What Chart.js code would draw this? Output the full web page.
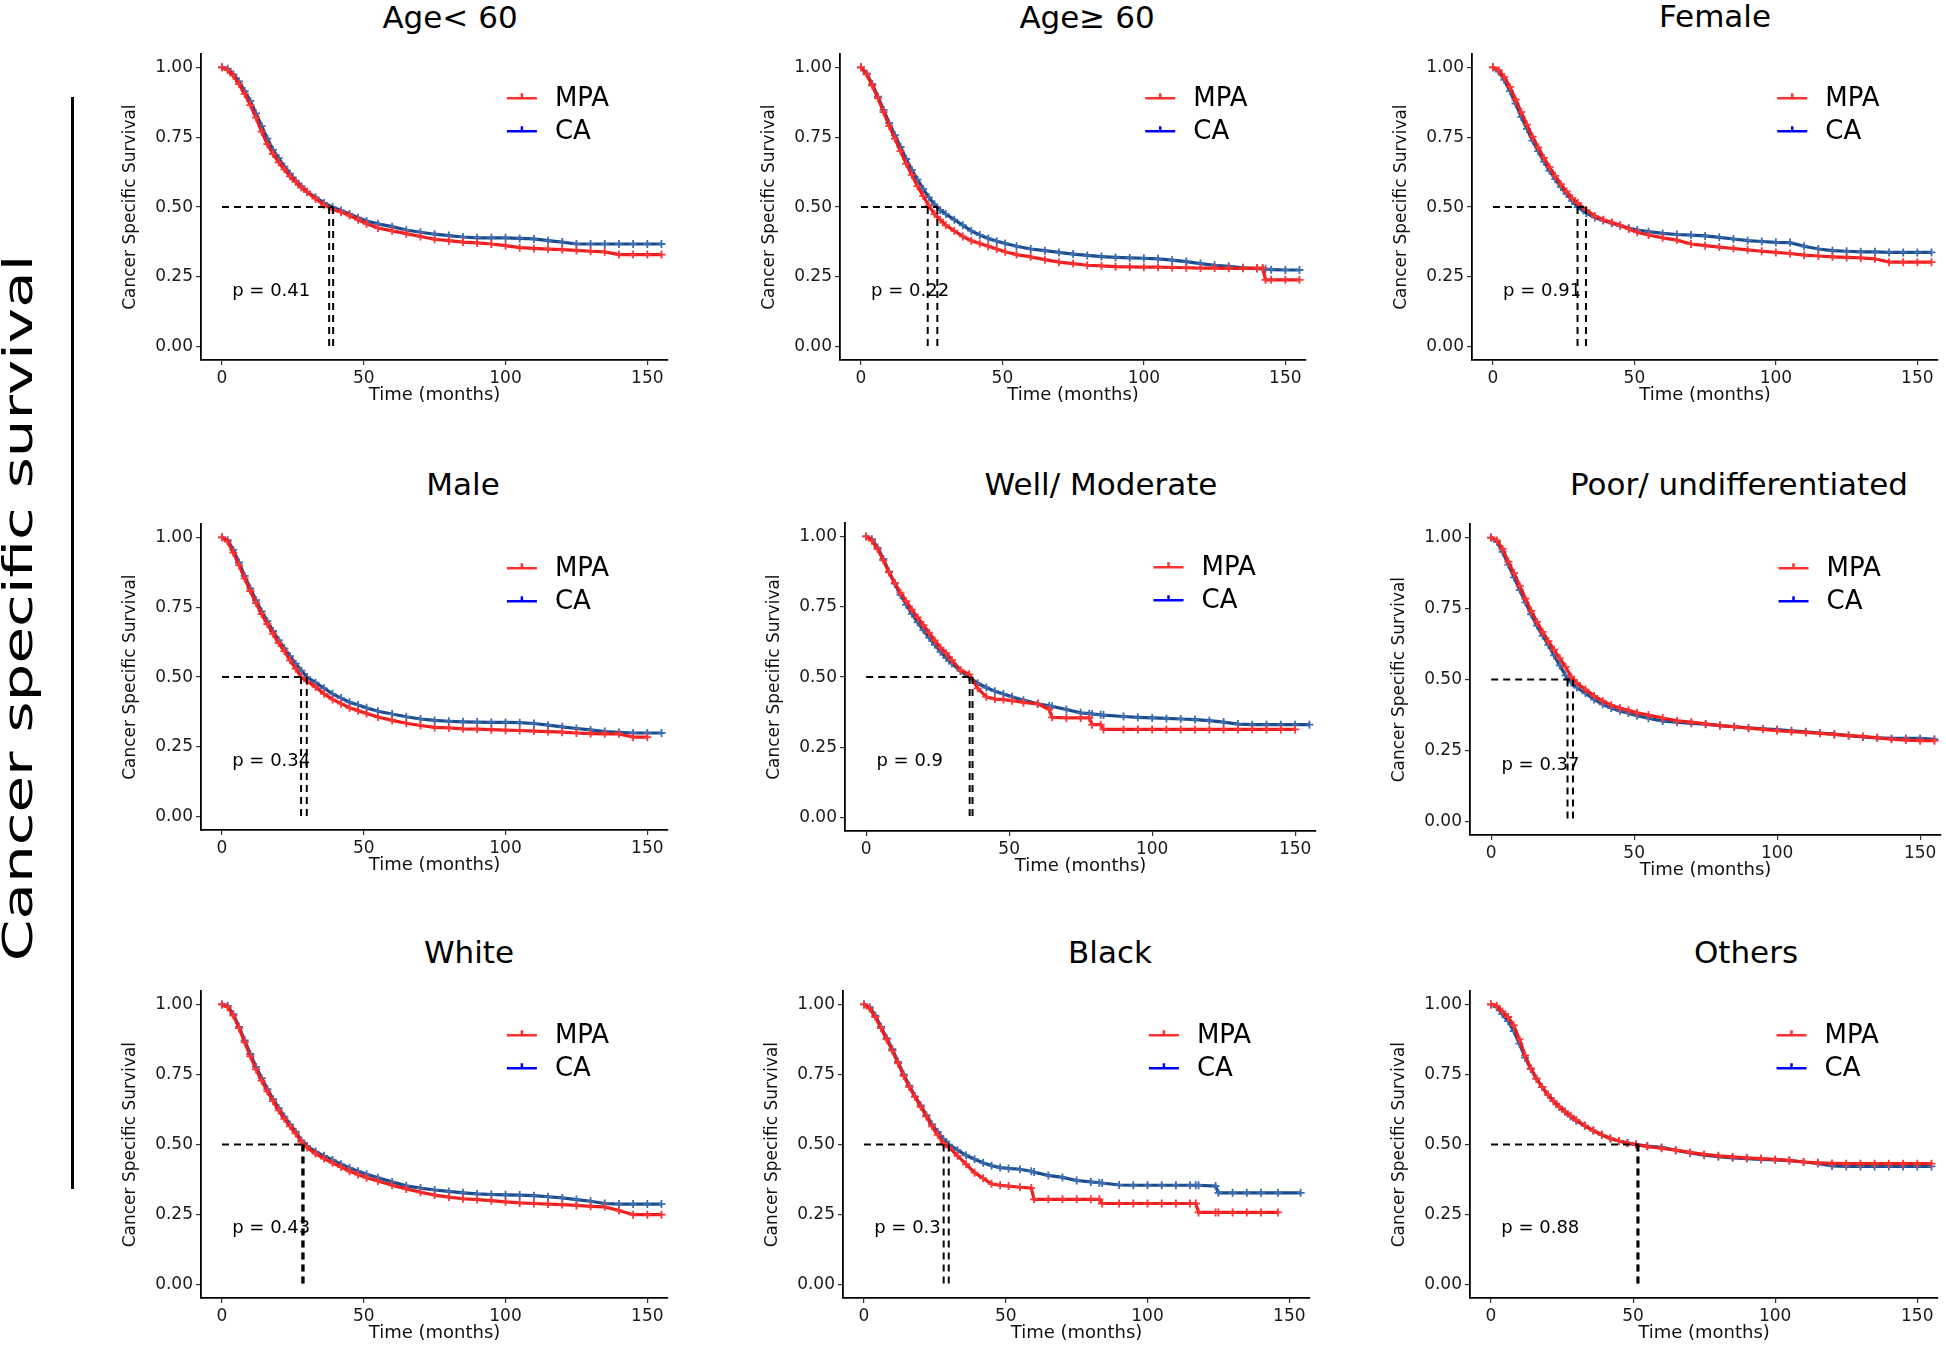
<!DOCTYPE html>
<html>
<head>
<meta charset="utf-8">
<script src="https://cdn.jsdelivr.net/npm/chart.js@4.4.1/dist/chart.umd.min.js"></script>
<style>
  body { margin: 0; background: #fff; width: 1946px; height: 1345px; position: relative; overflow: hidden; }
  canvas { position: absolute; }
  .ttl { position: absolute; font: 31px/31px "DejaVu Sans", sans-serif; color: #000; white-space: nowrap; transform: translateX(-50%); }
  #side { position: absolute; left: 18px; top: 608px; font: 40px/40px "DejaVu Sans", sans-serif; white-space: nowrap;
          transform: translate(-50%, -50%) rotate(-90deg) scaleX(1.49); }
  #bar { position: absolute; left: 71px; top: 97px; width: 3px; height: 1092px; background: #000; }
</style>
</head>
<body>
<div id="side">Cancer specific survival</div>
<div id="bar"></div>
<script>
// time grid (months) the survival values were read on
var months = [0,2,4,6,8,10,12,14,16,18,20,22,24,26,28,30,33,36,39,42,45,48,51,55,60,65,70,75,80,85,90,95,100,105,110,115,120,125,130,135,140,145,150,155];
var ageGe60Months = [0,2,4,6,8,10,12,14,16,18,20,22,24,26,28,30,33,36,39,42,45,48,51,55,60,65,70,75,80,85,90,95,100,105,110,115,120,125,130,135,140,142,143,145,150,155];
var wellMonths = [0,2,4,6,8,10,12,14,16,18,20,22,24,26,28,30,33,36,39,42,45,48,51,55,60,64,65,70,75,78,79,82,83,90,95,100,105,110,115,120,125,130,135,140,145,150,155];
var blackMonths = [0,2,4,6,8,10,12,14,16,18,20,22,24,26,28,30,33,36,39,42,45,48,51,55,59,60,65,70,75,80,83,84,90,95,100,105,110,115,117,118,124,125,130,135,140,146,154];

var groups = ['MPA', 'CA'];
var panelTitles = ['Age< 60', 'Age\u2265 60', 'Female', 'Male', 'Well/ Moderate', 'Poor/ undifferentiated', 'White', 'Black', 'Others'];
var pValues = ['0.41', '0.22', '0.91', '0.34', '0.9', '0.37', '0.43', '0.3', '0.88'];
// median survival (MPA, CA)
var medianMonths = [[37.8, 39.2], [23.6, 27], [32.9, 29.9], [27.9, 29.9], [37.2, 36.2], [28.6, 26.7], [28.3, 28.8], [28.1, 29.9], [51.5, 51.9]];

var xTicks = [0, 50, 100, 150];
var yTicks = [0, 0.25, 0.5, 0.75, 1];

var ageLt60Mpa = [1,.99,.97,.94,.905,.865,.82,.77,.725,.69,.66,.635,.61,.59,.57,.555, .53,.508,.492,.482,.47,.455,.44, .425,.415, .405,.395,.385,.38,.375,.372,.368,.362,.355,.352,.35,.348,.345,.342,.34,.33,.33,.33,.33];
var ageLt60Ca = [1,.995,.975,.95,.915,.88,.835,.79,.745,.705,.675,.645,.62,.595,.575,.555, .535,.515,.5,.488,.475,.462,.45, .44,.43, .418,.41,.403,.398,.393,.39,.39,.39,.388,.386,.38,.375,.368,.368,.368,.368,.368,.368,.368];

var ageGe60Mpa = [1,.975,.935,.89,.84,.79,.745,.7,.655,.615,.575,.54,.505,.475,.455,.435, .415,.395,.38,.37,.36,.35,.34, .33,.322, .312,.303,.298,.292,.29,.287,.286,.285,.285,.284,.283,.282,.282,.281,.281,.282, .282,.24,.24,.24,.24];
var ageGe60Ca = [1,.978,.94,.895,.848,.8,.757,.715,.672,.633,.598,.565,.535,.51,.49,.475, .455,.435,.415,.4,.388,.378,.37, .36,.35, .344,.338,.332,.327,.323,.32,.318,.317,.315,.31,.305,.298,.292,.288,.283,.28, .279,.279,.276,.275,.275];

var femaleMpa = [1,.99,.965,.93,.885,.84,.795,.752,.713,.676,.643,.612,.582,.556,.532,.515, .49,.468,.455,.445,.435,.422,.41, .4,.39, .382,.368,.362,.357,.352,.347,.342,.338,.334,.328,.325,.322,.32,.318,.315,.303,.303,.303,.303];
var femaleCa = [1,.985,.955,.915,.87,.823,.78,.738,.7,.663,.63,.6,.572,.547,.522,.5, .478,.463,.452,.442,.433,.425,.418, .412,.406, .402,.4,.397,.392,.386,.38,.377,.374,.373,.36,.35,.344,.342,.34,.34,.338,.338,.338,.338];

var maleMpa = [1,.985,.945,.9,.853,.808,.765,.725,.69,.655,.622,.593,.56,.53,.5,.485, .465,.44,.42,.405,.39,.38,.37, .357,.345, .335,.327,.32,.318,.315,.314,.312,.31,.309,.307,.305,.303,.3,.298,.297,.297,.285,.285,null];
var maleCa = [1,.99,.955,.91,.862,.817,.775,.735,.7,.665,.632,.603,.575,.548,.523,.5, .48,.46,.44,.425,.41,.4,.39, .378,.368, .358,.35,.345,.342,.34,.339,.338,.338,.337,.334,.328,.322,.316,.311,.305,.302,.3,.3,.3];

var wellMpa = [1,.985,.955,.915,.872,.835,.8,.77,.74,.712,.685,.658,.63,.605,.585,.56, .525,.51,.46,.43,.422,.42,.416, .41,.405, .385,.357,.355,.355,.355,.331,.331,.314,.314,.314,.314,.314,.314,.314,.314,.314,.314,.314,.314,.314,.314,null];
var wellCa = [1,.99,.96,.92,.875,.832,.792,.757,.725,.695,.667,.64,.615,.59,.568,.548, .522,.5,.478,.463,.45,.44,.43, .418,.405, .398,.396,.385,.373,.37,.369,.366,.365,.36,.357,.355,.353,.351,.349,.345,.34,.333,.331,.331,.331,.331,.331];

var poorMpa = [1,.99,.96,.915,.875,.83,.785,.742,.703,.668,.635,.605,.575,.545,.51,.488, .465,.443,.425,.41,.4,.392,.383, .375,.365, .355,.35,.344,.338,.334,.329,.325,.32,.317,.314,.311,.307,.303,.3,.295,.29,.287,.285,.285];
var poorCa = [1,.985,.95,.905,.86,.815,.772,.73,.69,.655,.622,.585,.55,.515,.49,.472, .452,.43,.413,.4,.39,.382,.373, .364,.354, .35,.346,.343,.338,.334,.33,.327,.324,.32,.316,.312,.308,.303,.298,.295,.293,.293,.293,.29];

var whiteMpa = [1,.99,.96,.915,.865,.815,.768,.728,.69,.655,.622,.592,.565,.54,.51,.49, .468,.45,.435,.42,.405,.393,.382, .37,.355, .342,.33,.32,.313,.307,.304,.3,.296,.292,.29,.288,.286,.283,.28,.278,.265,.25,.25,.25];
var whiteCa = [1,.995,.965,.92,.872,.823,.777,.737,.698,.662,.63,.6,.572,.546,.515,.495, .475,.46,.445,.43,.417,.405,.394, .382,.367, .353,.345,.338,.333,.328,.324,.322,.321,.32,.318,.314,.31,.304,.298,.29,.288,.288,.288,.288];

var blackMpa = [1,.985,.955,.915,.875,.835,.79,.745,.705,.67,.635,.6,.565,.535,.505,.49, .46,.43,.4,.38,.36,.355,.352, .348,.345,.305,.305,.305,.305,.305,.305,.29,.29,.29,.29,.29,.29,.29,.29,.258,.258,.258,.258,.258,.258,.258,null];
var blackCa = [1,.99,.96,.92,.88,.84,.795,.75,.71,.672,.64,.605,.572,.545,.52,.5, .48,.462,.448,.435,.425,.418,.415, .412,.405,.402,.39,.383,.372,.367,.364,.363,.356,.355,.355,.355,.355,.355,.355,.355,.352,.328,.328,.328,.328,.328,.328];

var othersMpa = [1,.995,.975,.955,.925,.875,.818,.772,.735,.705,.678,.655,.635,.618,.603,.588, .568,.55,.535,.522,.513,.505,.5, .493,.487, .48,.472,.465,.46,.456,.453,.45,.447,.444,.438,.435,.433,.432,.432,.432,.432,.432,.432,.432];
var othersCa = [1,.99,.965,.94,.905,.86,.81,.77,.735,.705,.678,.655,.635,.618,.6,.585, .567,.55,.535,.522,.513,.506,.5, .495,.49, .48,.47,.462,.457,.453,.45,.447,.445,.443,.438,.433,.424,.422,.422,.422,.422,.422,.422,.422];

var panelMonths = [months, ageGe60Months, months, months, wellMonths, months, months, blackMonths, months];
var panelMpa = [ageLt60Mpa, ageGe60Mpa, femaleMpa, maleMpa, wellMpa, poorMpa, whiteMpa, blackMpa, othersMpa];
var panelCa = [ageLt60Ca, ageGe60Ca, femaleCa, maleCa, wellCa, poorCa, whiteCa, blackCa, othersCa];

// page layout: plot box [left, top, right, bottom] and title centre / baseline
var boxes = [[201,53,668,360],[840,53,1306,360],[1472,53,1938,360],
             [201,523,668,830],[845,522,1316,831],[1470,523,1941,835],
             [201,990,668,1298],[843,990,1310,1298],[1470,990,1938,1298]];
var titlePos = [[450,28],[1087,28],[1715,27],[463,495],[1101,495],[1739,495],[469,963],[1110,963],[1746,963]];

var FONT = '"DejaVu Sans", "Liberation Sans", Arial, sans-serif';
Chart.defaults.font.family = FONT;
Chart.defaults.color = '#111';

var lineColors = ['#ee1d1d', '#1b4d8c'];
var markColors = ['#ff3535', '#3d6db2'];
var legendColors = ['#ff3030', '#0000ff'];

var kmNotes = {
  id: 'kmNotes',
  afterDatasetsDraw: function (chart, args, opts) {
    var ctx = chart.ctx, a = chart.chartArea;
    ctx.save();
    ctx.fillStyle = '#000';
    ctx.textAlign = 'left';
    ctx.textBaseline = 'middle';
    ctx.font = '18px ' + FONT;
    ctx.fillText('p = ' + opts.p, chart.scales.x.getPixelForValue(3.6), chart.scales.y.getPixelForValue(0.2));

    var lx = a.left + a.width * 0.655;
    groups.forEach(function (g, i) {
      var ly = a.top + 44 + i * 33;
      ctx.strokeStyle = legendColors[i];
      ctx.lineWidth = 2.5;
      ctx.beginPath();
      ctx.moveTo(lx, ly); ctx.lineTo(lx + 30, ly);
      ctx.moveTo(lx + 15, ly); ctx.lineTo(lx + 15, ly - 5);
      ctx.stroke();
      ctx.fillStyle = '#000';
      ctx.font = '26px ' + FONT;
      ctx.fillText(g, lx + 48, ly + 1);
    });
    ctx.restore();
  }
};

function pts(xs, ys) {
  return xs.map(function (x, k) { return { x: x, y: ys[k] }; });
}

panelTitles.forEach(function (title, i) {
  var b = boxes[i];
  var w = b[2] - b[0] + 125, h = b[3] - b[1] + 72;

  var t = document.createElement('div');
  t.className = 'ttl';
  t.textContent = title;
  t.style.left = titlePos[i][0] + 'px';
  t.style.top = (titlePos[i][1] - 26) + 'px';
  document.body.appendChild(t);

  var cv = document.createElement('canvas');
  cv.width = w; cv.height = h;
  cv.style.left = (b[0] - 110) + 'px';
  cv.style.top = (b[1] - 12) + 'px';
  cv.style.width = w + 'px';
  cv.style.height = h + 'px';
  document.body.appendChild(cv);

  var series = [panelMpa[i], panelCa[i]];
  var datasets = series.map(function (vals, g) {
    return {
      label: groups[g],
      data: pts(panelMonths[i], vals),
      borderColor: lineColors[g],
      borderWidth: 3.2,
      pointStyle: 'cross',
      pointRadius: 4,
      pointBorderWidth: 1.8,
      pointBorderColor: markColors[g],
      pointBackgroundColor: markColors[g],
      tension: 0,
      order: g + 1
    };
  });

  var med = medianMonths[i];
  var dash = { borderColor: '#000', borderWidth: 2, borderDash: [7, 5], pointRadius: 0, order: 0, tension: 0 };
  datasets.push(Object.assign({ data: [{ x: 0, y: 0.5 }, { x: Math.max(med[0], med[1]), y: 0.5 }] }, dash));
  med.forEach(function (m) {
    datasets.push(Object.assign({ data: [{ x: m, y: 0.5 }, { x: m, y: 0 }] }, dash));
  });

  new Chart(cv.getContext('2d'), {
    type: 'line',
    data: { datasets: datasets },
    plugins: [kmNotes],
    options: {
      responsive: false,
      animation: false,
      devicePixelRatio: 1,
      layout: { padding: { top: 12, right: 15, left: 0, bottom: 0 } },
      plugins: {
        legend: { display: false },
        tooltip: { enabled: false },
        kmNotes: { p: pValues[i] }
      },
      scales: {
        x: {
          type: 'linear',
          min: -7.4,
          max: 157.3,
          afterBuildTicks: function (s) { s.ticks = xTicks.map(function (v) { return { value: v }; }); },
          afterFit: function (s) { s.height = 60; },
          ticks: { font: { size: 17 }, color: '#1a1a1a', padding: 3, maxRotation: 0, autoSkip: false },
          grid: { drawOnChartArea: false, drawTicks: true, tickLength: 5, color: '#333', lineWidth: 1.2 },
          border: { display: true, color: '#000', width: 1.8 },
          title: { display: true, text: 'Time (months)', font: { size: 18 }, color: '#111', padding: { top: 0, bottom: 14 } }
        },
        y: {
          type: 'linear',
          min: -0.047,
          max: 1.047,
          afterBuildTicks: function (s) { s.ticks = yTicks.map(function (v) { return { value: v }; }); },
          afterFit: function (s) { s.width = 110; },
          ticks: { font: { size: 17 }, color: '#1a1a1a', padding: 3, callback: function (v) { return v.toFixed(2); } },
          grid: { drawOnChartArea: false, drawTicks: true, tickLength: 5, color: '#333', lineWidth: 1.2 },
          border: { display: true, color: '#000', width: 1.8 },
          title: { display: true, text: 'Cancer Specific Survival', font: { size: 17 }, color: '#111', padding: { top: 29, bottom: 0 } }
        }
      }
    }
  });
});
</script>
</body>
</html>
